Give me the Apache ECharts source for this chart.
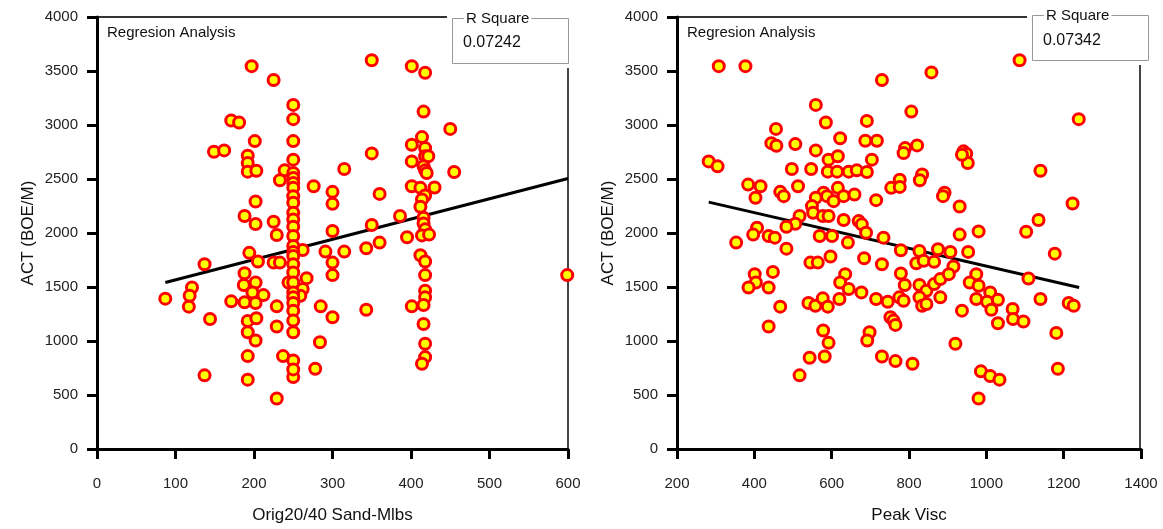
<!DOCTYPE html>
<html><head><meta charset="utf-8">
<script src="https://cdn.jsdelivr.net/npm/echarts@6/dist/echarts.min.js"></script>
<style>html,body{margin:0;padding:0;background:#fff}#c{width:1163px;height:529px}</style>
</head><body><div id="c"></div><script>
// ---- data ----
const leftTitle = "Orig20/40 Sand-Mlbs";
const rightTitle = "Peak Visc";
const yTitle = "ACT (BOE/M)";
const panelLabel = "Regresion Analysis";
const rSquareLabel = "R Square";
const leftRSquare = "0.07242";
const rightRSquare = "0.07342";

const sandPoints = [
[197,3545],[225,3416],[350,3600],[401,3545],[418,3484],
[250,3186],[250,3054],[416,3124],[171,3041],[181,3023],[450,2964],
[201,2851],[250,2851],[401,2817],[414,2888],[418,2786],
[149,2753],[162,2765],[350,2737],[192,2716],[192,2648],[250,2679],[401,2663],
[418,2710],[422,2710],[416,2617],[192,2568],[203,2577],[239,2580],[315,2593],
[418,2580],[420,2556],[455,2565],[233,2488],[276,2433],
[401,2433],[412,2418],[430,2421],[300,2381],[360,2362],[418,2347],[414,2310],
[300,2270],[202,2292],[412,2243],[188,2157],[386,2157],[225,2104],[202,2083],[350,2074],
[416,2141],[416,2089],[418,2034],[300,2018],[229,1981],[395,1960],[414,1978],[423,1985],
[360,1911],[343,1859],[315,1828],[291,1828],[262,1843],[194,1816],[205,1736],
[225,1726],[233,1726],[300,1726],[137,1711],[412,1794],[418,1736],
[188,1628],[300,1610],[418,1610],[267,1582],[121,1496],[187,1518],[202,1542],[198,1450],
[212,1425],[244,1542],[262,1481],[259,1419],[118,1419],[87,1392],[418,1465],[418,1404],
[171,1367],[188,1358],[202,1352],[229,1321],[285,1321],[343,1290],[401,1321],[416,1333],
[117,1318],[300,1220],[144,1204],[192,1186],[203,1210],[416,1158],[229,1134],[192,1081],
[202,1005],[284,989],[418,974],[192,860],[237,860],[250,820],[418,851],[414,790],[278,743],
[137,682],[192,642],[250,667],[250,737],[229,467],[599,1610],
[250,2556],[250,2510],[250,2464],[250,2418],[250,2341],[250,2280],[250,2187],[250,2126],
[250,2058],[250,1972],[250,1880],[250,1825],[250,1788],[250,1711],[250,1634],[250,1542],
[250,1450],[250,1404],[250,1352],[250,1281],[250,1189],[250,1081]
];
const sandFit = [[87,1542],[600,2504]];

const viscPoints = [
[308,3545],[377,3545],[730,3416],[858,3487],[1086,3600],
[559,3186],[806,3124],[1239,3054],[585,3023],[691,3038],[456,2964],
[622,2878],[687,2854],[717,2854],[444,2832],[457,2808],[506,2823],[821,2811],
[790,2786],[786,2740],[559,2765],[941,2756],[948,2734],[952,2648],[937,2725],
[282,2663],[305,2617],[592,2679],[616,2710],[704,2679],[497,2593],[547,2593],
[590,2568],[614,2568],[644,2568],[665,2580],[691,2565],[834,2541],[828,2488],[1140,2577],
[384,2448],[416,2433],[513,2433],[467,2381],[476,2341],[403,2326],[616,2418],
[579,2372],[559,2326],[588,2341],[605,2295],[631,2341],[659,2356],
[754,2418],[776,2494],[776,2427],[715,2304],[892,2372],[888,2341],[931,2246],[1223,2273],
[549,2249],[552,2187],[577,2157],[592,2157],[517,2157],[506,2086],[483,2058],
[631,2120],[670,2110],[678,2080],[689,2003],[1135,2120],
[407,2049],[397,1985],[437,1972],[453,1957],[569,1972],[601,1972],[734,1957],
[642,1911],[353,1911],[483,1855],[931,1985],[980,2015],[1103,2012],
[779,1840],[827,1834],[875,1849],[907,1825],[953,1825],[684,1766],[597,1782],
[545,1726],[564,1726],[730,1711],[819,1720],[838,1742],[865,1733],[915,1690],[1177,1809],
[401,1619],[448,1640],[404,1542],[385,1496],[437,1496],[467,1318],
[635,1619],[622,1542],[644,1481],[677,1450],[779,1625],
[789,1518],[827,1518],[845,1465],[865,1527],[881,1573],[903,1619],
[974,1619],[957,1542],[980,1511],[1010,1450],[1030,1382],[1109,1579],
[540,1352],[558,1327],[577,1395],[590,1318],[620,1389],
[715,1389],[745,1364],[775,1404],[786,1373],[827,1404],[834,1327],[845,1342],[881,1404],
[974,1389],[1002,1364],[1013,1290],[1068,1296],[1069,1204],[1096,1180],[1140,1389],
[1213,1352],[1226,1327],[937,1281],[1030,1164],[437,1134],
[752,1220],[760,1189],[765,1149],[578,1097],[592,983],[698,1081],[692,1005],
[1181,1075],[920,974],[543,845],[582,857],[730,857],[765,814],[809,790],
[517,682],[986,719],[1010,676],[1034,642],[1185,743],[980,467]
];
const viscFit = [[282,2286],[1240,1496]];

// ---- chart ----
const FONT = '"Liberation Sans", Arial, sans-serif';
const chart = echarts.init(document.getElementById('c'), null, {renderer: 'canvas'});
const plain = v => String(v);

function xAxis(idx, min, max, interval, name) {
  return {
    gridIndex: idx, type: 'value', min: min, max: max, interval: interval,
    name: name, nameLocation: 'middle', nameGap: 58,
    nameTextStyle: {fontFamily: FONT, fontSize: 17, color: '#111'},
    axisLine: {onZero: false, lineStyle: {color: '#000', width: 3}},
    axisTick: {length: 10, lineStyle: {color: '#000', width: 3}},
    axisLabel: {margin: 27, fontFamily: FONT, fontSize: 15, color: '#222', formatter: plain},
    splitLine: {show: false}
  };
}
function yAxis(idx) {
  return {
    gridIndex: idx, type: 'value', min: 0, max: 4000, interval: 500,
    name: yTitle, nameLocation: 'middle', nameGap: 60,
    nameTextStyle: {fontFamily: FONT, fontSize: 17, color: '#111'},
    axisLine: {onZero: false, lineStyle: {color: '#000', width: 3}},
    axisTick: {length: 10, lineStyle: {color: '#000', width: 3}},
    axisLabel: {margin: 19, fontFamily: FONT, fontSize: 15, color: '#222', formatter: plain},
    splitLine: {show: false}
  };
}
const dot = {color: '#ffff00', borderColor: '#ff0000', borderWidth: 3, opacity: 1};

function panelGraphics(px, plotRight, boxL, boxR, boxT, boxB, topEnd, rightStart, value, titleY, valueY) {
  return [
    {type: 'line', shape: {x1: px, y1: 17, x2: topEnd, y2: 17}, style: {stroke: '#333', lineWidth: 2}},
    {type: 'line', shape: {x1: plotRight, y1: rightStart, x2: plotRight, y2: 451}, style: {stroke: '#444', lineWidth: 2}},
    {type: 'rect', shape: {x: boxL + 0.5, y: boxT + 0.5, width: boxR - boxL, height: boxB - boxT}, style: {fill: '#fff', stroke: '#999', lineWidth: 1}},
    {type: 'text', x: boxL + 12, y: titleY, style: {text: rSquareLabel, font: '15px ' + FONT, fill: '#111', verticalAlign: 'middle', backgroundColor: '#fff', padding: [0, 2]}},
    {type: 'text', x: boxL + 11, y: valueY, style: {text: value, font: '16px ' + FONT, fill: '#111', verticalAlign: 'middle'}},
    {type: 'text', x: px + 10, y: 33, style: {text: panelLabel, font: '15px ' + FONT, fill: '#111', verticalAlign: 'middle'}}
  ];
}

chart.setOption({
  animation: false,
  backgroundColor: '#fff',
  grid: [
    {left: 97, top: 17, width: 471, height: 434},
    {left: 677, top: 17, width: 464, height: 434}
  ],
  xAxis: [xAxis(0, 0, 600, 100, leftTitle), xAxis(1, 200, 1400, 200, rightTitle)],
  yAxis: [yAxis(0), yAxis(1)],
  series: [
    {type: 'line', xAxisIndex: 0, yAxisIndex: 0, data: sandFit, symbol: 'none', lineStyle: {color: '#000', width: 3}, z: 2},
    {type: 'scatter', xAxisIndex: 0, yAxisIndex: 0, data: sandPoints, symbol: 'circle', symbolSize: 11, itemStyle: dot, z: 3},
    {type: 'line', xAxisIndex: 1, yAxisIndex: 1, data: viscFit, symbol: 'none', lineStyle: {color: '#000', width: 3}, z: 2},
    {type: 'scatter', xAxisIndex: 1, yAxisIndex: 1, data: viscPoints, symbol: 'circle', symbolSize: 11, itemStyle: dot, z: 3}
  ],
  graphic: [].concat(
    panelGraphics(97, 568, 452, 568, 18, 63, 447, 68, leftRSquare, 19, 43),
    panelGraphics(677, 1140, 1032, 1148, 15, 60, 1027, 65, rightRSquare, 16, 41)
  )
});
</script></body></html>
